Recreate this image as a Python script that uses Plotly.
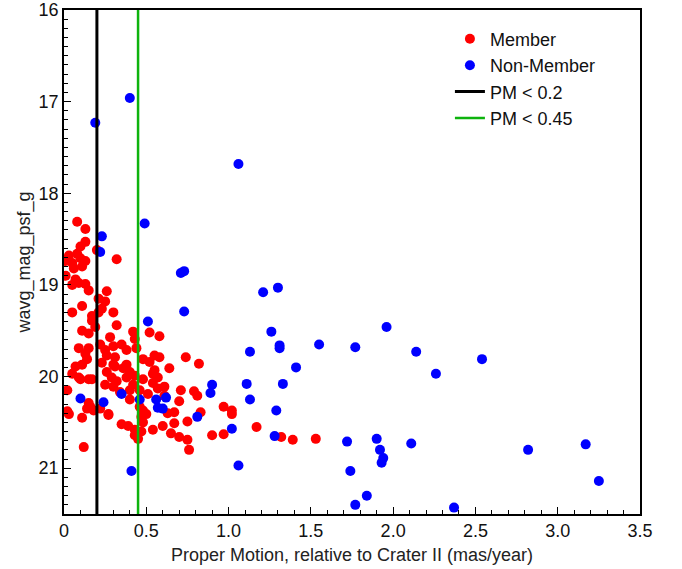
import plotly.graph_objects as go

# Member stars: proper motion (mas/yr) and g magnitude
member_pm = [0.08, 0.13, 0.13, 0.10, 0.20, 0.03, 0.01, 0.08, 0.13, 0.06,
             0.32, 0.01, 0.05, 0.09, 0.13, 0.15, 0.26, 0.21, 0.23, 0.11,
             0.05, 0.30, 0.17, 0.17, 0.32, 0.11, 0.15, 0.19, 0.42, 0.52,
             0.58, 0.28, 0.43, 0.44, 0.22, 0.09, 0.15, 0.25, 0.30, 0.35,
             0.38, 0.26, 0.31, 0.13, 0.14, 0.48, 0.55, 0.58, 0.74, 0.82,
             0.52, 0.64, 0.23, 0.30, 0.38, 0.11, 0.05, 0.09, 0.15, 0.02,
             0.26, 0.29, 0.32, 0.38, 0.40, 0.43, 0.48, 0.54, 0.55, 0.42,
             0.46, 0.51, 0.57, 0.61, 0.34, 0.40, 0.71, 0.79, 0.81, 0.70,
             0.15, 0.14, 0.18, 0.22, 0.02, 0.11, 0.27, 0.35, 0.39, 0.43,
             0.45, 0.47, 0.47, 0.50, 0.54, 0.60, 0.63, 0.65, 0.67, 0.70,
             0.75, 0.75, 0.76, 0.83, 0.90, 0.97, 0.97, 1.02, 1.02, 1.17,
             1.32, 1.39, 1.53, 0.12, 0.07, 0.10, 0.17, 0.07, 0.05, 0.10,
             0.11, 0.25, 0.21, 0.31, 0.36, 0.25, 0.30, 0.54, 0.40, 0.46,
             0.48, 0.43, 0.48, 0.67, 0.57, 0.61, 0.03, 0.16, 0.27]
member_mag = [18.31, 18.39, 18.53, 18.58, 18.62, 18.68, 18.74, 18.66, 18.74, 18.82,
              18.72, 18.90, 19.00, 18.98, 18.99, 19.06, 19.07, 19.15, 19.26, 19.23,
              19.30, 19.30, 19.39, 19.34, 19.44, 19.50, 19.53, 19.46, 19.51, 19.52,
              19.56, 19.57, 19.59, 19.69, 19.65, 19.69, 19.69, 19.71, 19.67, 19.65,
              19.71, 19.77, 19.79, 19.75, 19.81, 19.81, 19.77, 19.79, 19.79, 19.86,
              19.84, 19.91, 19.85, 19.87, 19.87, 19.87, 19.97, 20.01, 20.03, 20.15,
              19.95, 20.01, 20.05, 20.01, 19.95, 19.99, 20.03, 19.97, 19.93, 20.09,
              20.15, 20.19, 20.13, 20.11, 20.17, 20.25, 20.15, 20.16, 20.21, 20.27,
              20.29, 20.35, 20.37, 20.35, 20.38, 20.45, 20.41, 20.52, 20.54, 20.64,
              20.68, 20.60, 20.44, 20.41, 20.58, 20.54, 20.40, 20.62, 20.51, 20.66,
              20.49, 20.69, 20.80, 20.39, 20.64, 20.33, 20.63, 20.41, 20.37, 20.55,
              20.66, 20.69, 20.68, 20.77, 19.89, 20.03, 20.03, 18.94, 18.76, 18.71,
              18.80, 19.18, 19.30, 19.89, 19.91, 20.09, 20.11, 20.07, 20.15, 20.33,
              20.37, 20.58, 20.50, 20.39, 20.01, 20.21, 20.41, 20.33, 20.42]

# Non-member stars
nonmember_pm = [0.19, 0.40, 1.06, 0.49, 0.23, 0.22, 0.71, 0.73, 1.21, 1.30,
                0.73, 0.51, 1.96, 1.26, 1.55, 1.31, 1.31, 1.77, 1.13, 2.14,
                2.54, 1.41, 2.26, 0.90, 1.11, 1.33, 0.89, 0.35, 0.10, 0.24,
                0.46, 0.56, 0.62, 1.13, 0.57, 0.60, 1.29, 0.81, 1.02, 1.28,
                1.72, 1.90, 2.11, 3.17, 1.92, 2.82, 1.94, 1.93, 1.06, 0.41,
                1.74, 3.25, 1.84, 1.77, 2.37]
nonmember_mag = [17.23, 16.96, 17.68, 18.33, 18.47, 18.64, 18.87, 18.85, 19.08, 19.03,
                 19.29, 19.40, 19.46, 19.51, 19.65, 19.66, 19.69, 19.68, 19.73, 19.73,
                 19.81, 19.90, 19.97, 20.09, 20.08, 20.08, 20.18, 20.19, 20.24, 20.28,
                 20.25, 20.25, 20.23, 20.25, 20.34, 20.35, 20.37, 20.44, 20.57, 20.65,
                 20.71, 20.68, 20.73, 20.74, 20.80, 20.80, 20.89, 20.94, 20.97, 21.03,
                 21.03, 21.14, 21.30, 21.40, 21.43]

# Proper-motion cuts
cut_values = [0.2, 0.45]
cut_names = ["PM < 0.2", "PM < 0.45"]
cut_colors = ["#000000", "#0db30d"]

mag_range = [21.5, 16]
x_tickvals = [0, 0.5, 1.0, 1.5, 2.0, 2.5, 3.0, 3.5]
x_ticktext = ["0", "0.5", "1.0", "1.5", "2.0", "2.5", "3.0", "3.5"]
y_tickvals = [16, 17, 18, 19, 20, 21]

font_family = "Liberation Sans, Arial, sans-serif"
text_size = 18

fig = go.Figure()
fig.add_trace(go.Scatter(x=member_pm, y=member_mag, mode="markers", name="Member",
                         marker=dict(color="#ff0000", size=10, line=dict(width=0))))
fig.add_trace(go.Scatter(x=nonmember_pm, y=nonmember_mag, mode="markers", name="Non-Member",
                         marker=dict(color="#0000ff", size=10, line=dict(width=0))))
for v, n, c, w in zip(cut_values, cut_names, cut_colors, [3, 2.5]):
    fig.add_trace(go.Scatter(x=[v, v], y=[mag_range[1], mag_range[0]], mode="lines", name=n,
                             line=dict(color=c, width=w)))

axis_common = dict(
    showgrid=False, zeroline=False, showline=True, linecolor="black", linewidth=1.5,
    mirror=True, ticks="inside", ticklen=7, tickcolor="black", tickwidth=1,
    automargin=False,
    tickfont=dict(family=font_family, size=text_size, color="#111111"),
)

fig.update_xaxes(range=[0, 3.5], tickvals=x_tickvals, ticktext=x_ticktext,
                 minor=dict(dtick=0.1, ticks="inside", ticklen=4, tickcolor="black"),
                 title=dict(text="Proper Motion, relative to Crater II (mas/year)",
                            font=dict(family=font_family, size=text_size, color="#222222"),
                            standoff=8),
                 **axis_common)
fig.update_yaxes(range=mag_range, tickvals=y_tickvals,
                 minor=dict(dtick=0.1, ticks="inside", ticklen=4, tickcolor="black"),
                 title=dict(text="wavg_mag_psf_g",
                            font=dict(family=font_family, size=text_size, color="#222222"),
                            standoff=3),
                 **axis_common)

fig.update_layout(
    width=682, height=569,
    margin=dict(l=64, r=42, t=10, b=55),
    plot_bgcolor="white", paper_bgcolor="white",
    font=dict(family=font_family, size=text_size, color="#111111"),
    legend=dict(x=0.67, y=0.979, xanchor="left", yanchor="top",
                bgcolor="rgba(0,0,0,0)", borderwidth=0,
                font=dict(family=font_family, size=text_size, color="#111111"),
                itemwidth=30, tracegroupgap=0),
    showlegend=True,
)

fig.write_html("out.html")
